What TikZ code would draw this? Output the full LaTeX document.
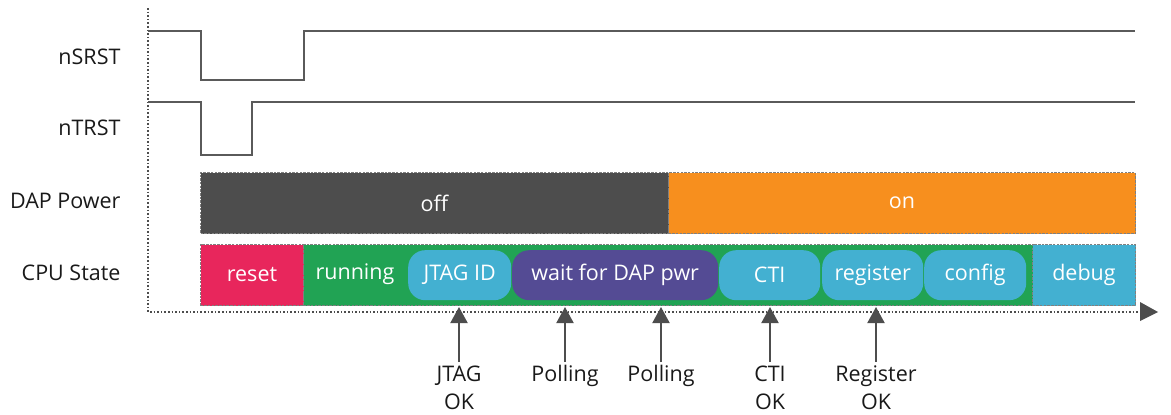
\documentclass[tikz,border=0pt]{standalone}
\usepackage{fontspec}
\setmainfont{Open Sans}
\usetikzlibrary{arrows.meta}
\definecolor{offgray}{HTML}{4D4D4D}
\definecolor{onorange}{HTML}{F78F1E}
\definecolor{resetred}{HTML}{E8265C}
\definecolor{rungreen}{HTML}{21A354}
\definecolor{pillblue}{HTML}{43B0D1}
\definecolor{waitpurple}{HTML}{544B94}
\definecolor{sigline}{HTML}{5A5A5A}
\definecolor{framegray}{HTML}{808080}
\tikzset{
  lbl/.style={font=\fontsize{21.5}{28}\selectfont, text=black!90},
  seglbl/.style={font=\fontsize{21.5}{26}\selectfont, text=white},
  bar/.style={draw=framegray, line width=1pt, dash pattern=on 2.5pt off 1.2pt,
              inner sep=0pt, anchor=north west, seglbl},
  pill/.style={rounded corners=17pt, inner sep=0pt, anchor=north west,
               minimum height=50pt, seglbl},
  signal/.style={draw=sigline, line width=2pt},
  axis/.style={draw=offgray, line width=1.6pt, dotted},
  marker/.style={draw=offgray, line width=2pt,
                 -{Triangle[width=17pt,length=16pt,fill=offgray]}},
}
\begin{document}
\begin{tikzpicture}[x=1pt,y=-1pt]
\useasboundingbox (0,0) rectangle (1171,415);

% row labels
\node[lbl, anchor=east] (lsrst) at (124,57)  {nSRST};
\node[lbl, anchor=east] (ltrst) at (124,128) {nTRST};
\node[lbl, anchor=east] (ldap)  at (124,201) {DAP Power};
\node[lbl, anchor=east] (lcpu)  at (124,273) {CPU State};

% axes
\coordinate (org) at (148,312);
\coordinate (ytop) at (148,8);
\coordinate (xend) at (1158,312);
\draw[axis] (ytop) -- (org) -- (1141,312);
\fill[offgray] (1140,302) -- (xend) -- (1140,321) -- cycle;

% reset signals
\draw[signal] (148,31) -- (201,31) -- (201,80) -- (304,80) -- (304,31) -- (1135,31);
\draw[signal] (148,102) -- (201,102) -- (201,155) -- (252,155) -- (252,102) -- (1135,102);

% DAP power
\node[bar, fill=offgray, minimum width=468pt, minimum height=61pt] (off) at (200,172) {off};
\node[bar, fill=onorange, minimum width=467pt, minimum height=61pt] (on) at (668,172) {on};

% CPU state
\node[bar, fill=resetred, minimum width=103pt, minimum height=61pt] (reset) at (200,244) {reset};
\node[bar, fill=rungreen, minimum width=729pt, minimum height=61pt] (running) at (303,244) {};
\node[bar, fill=pillblue, minimum width=103pt, minimum height=61pt] (debug) at (1032,244) {debug};
\node[seglbl] (runtxt) at (355,274.5) {running};

\node[pill, fill=pillblue,   minimum width=103pt] (jtag)   at (408,250) {JTAG ID};
\node[pill, fill=waitpurple, minimum width=206pt] (wait)   at (512,250) {wait for DAP pwr};
\node[pill, fill=pillblue,   minimum width=101pt] (cti)    at (719,250) {CTI};
\node[pill, fill=pillblue,   minimum width=101pt] (reg)    at (822,250) {register};
\node[pill, fill=pillblue,   minimum width=102pt] (config) at (924,250) {config};

% event markers
\node[lbl, anchor=north, align=center] (ejtag) at (459,362) {JTAG\\OK};
\node[lbl, anchor=north] (epoll1) at (565,362) {Polling};
\node[lbl, anchor=north] (epoll2) at (661,362) {Polling};
\node[lbl, anchor=north, align=center] (ecti) at (770,362) {CTI\\OK};
\node[lbl, anchor=north, align=center] (ereg) at (876,362) {Register\\OK};

\coordinate (tjtag)  at (459,307);
\coordinate (tpoll1) at (565,307);
\coordinate (tpoll2) at (661,307);
\coordinate (tcti)   at (770,307);
\coordinate (treg)   at (876,307);

\draw[marker] (ejtag.north)  -- (tjtag);
\draw[marker] (epoll1.north) -- (tpoll1);
\draw[marker] (epoll2.north) -- (tpoll2);
\draw[marker] (ecti.north)   -- (tcti);
\draw[marker] (ereg.north)   -- (treg);
\end{tikzpicture}
\end{document}
